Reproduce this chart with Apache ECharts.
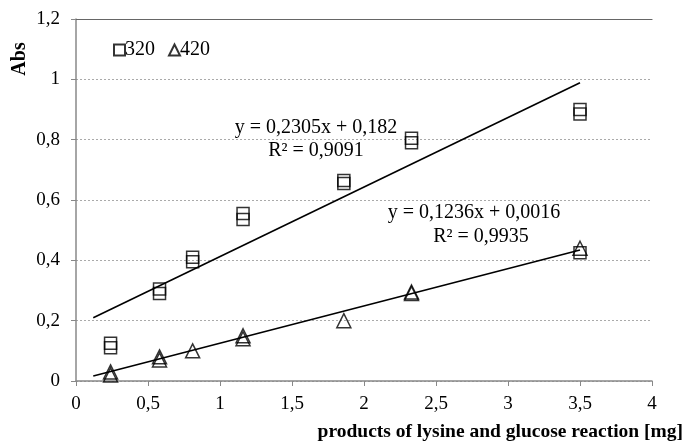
<!DOCTYPE html>
<html>
<head>
<meta charset="utf-8">
<script src="https://cdn.jsdelivr.net/npm/echarts@6/dist/echarts.min.js"></script>
<style>html,body{margin:0;padding:0;background:#fff}#c{width:686px;height:443px}</style>
</head>
<body>
<div id="c"></div>
<script>
// Data
var x320 = [0.24, 0.24, 0.58, 0.58, 0.81, 0.81, 1.16, 1.16, 1.86, 1.86, 2.33, 2.33, 3.5, 3.5];
var y320 = [0.125, 0.11, 0.305, 0.29, 0.41, 0.395, 0.555, 0.535, 0.665, 0.655, 0.805, 0.79, 0.90, 0.885];
var x420 = [0.24, 0.24, 0.58, 0.58, 0.81, 1.16, 1.16, 1.86, 2.33, 2.33, 3.5];
var y420 = [0.03, 0.02, 0.08, 0.07, 0.10, 0.15, 0.14, 0.20, 0.295, 0.29, 0.44];
var x420sq = [3.5];
var y420sq = [0.425];
// Trendline coefficients (as printed) and x range
var slope = [0.2305, 0.1236];
var intercept = [0.182, 0.0016];
var trendX = [0.12, 3.5];
var eqText = ['y = 0,2305x + 0,182', 'y = 0,1236x + 0,0016'];
var r2Text = ['R² = 0,9091', 'R² = 0,9935'];
var xTicks = [0, 0.5, 1, 1.5, 2, 2.5, 3, 3.5, 4];
var yTicks = [0, 0.2, 0.4, 0.6, 0.8, 1, 1.2];

function pairs(xs, ys){ return xs.map(function(v,i){return [v, ys[i]];}); }
function trend(k){ return trendX.map(function(x){ return [x, slope[k]*x + intercept[k]]; }); }
function fmt(v){ return String(v).replace('.', ','); }

var FONT = '"Liberation Serif", "Times New Roman", serif';
var hollow = {color: 'rgba(0,0,0,0)', borderColor: '#000', borderWidth: 1.5};
function txt(s, x, y, size, align, extra){
  var o = {type: 'text', x: x, y: y, style: {text: s, font: size + 'px ' + FONT, fill: '#000', textAlign: align || 'center', textVerticalAlign: 'middle'}};
  for (var k in (extra||{})) o[k] = extra[k];
  return o;
}

var chart = echarts.init(document.getElementById('c'));
chart.setOption({
  animation: false,
  backgroundColor: '#fff',
  textStyle: {fontFamily: FONT},
  grid: {left: 76, right: 34, top: 19, bottom: 62},
  legend: {
    left: 108, top: 35, itemWidth: 11, itemHeight: 11, itemGap: 13,
    data: [{name: '320', icon: 'rect'}, {name: '420', icon: 'triangle'}],
    textStyle: {fontFamily: FONT, fontSize: 20, color: '#000', padding: [0,0,0,-5]}
  },
  xAxis: [{
    type: 'value', min: 0, max: 4, interval: 0.5,
    axisLine: {lineStyle: {color: '#888', width: 1.5}},
    axisTick: {show: true, length: 5, lineStyle: {color: '#888'}},
    axisLabel: {fontFamily: FONT, fontSize: 19, color: '#000', margin: 14, formatter: fmt},
    splitLine: {show: false}
  }, {
    type: 'value', min: 0, max: 4, position: 'top',
    axisLine: {show: true, lineStyle: {color: '#666', width: 1.2}},
    axisTick: {show: false}, axisLabel: {show: false}, splitLine: {show: false}
  }],
  yAxis: {
    type: 'value', min: 0, max: 1.2, interval: 0.2,
    axisLine: {show: true, lineStyle: {color: '#888', width: 1.5}},
    axisTick: {show: true, length: 5, lineStyle: {color: '#888'}},
    axisLabel: {fontFamily: FONT, fontSize: 19, color: '#000', margin: 16, formatter: fmt},
    splitLine: {show: true, lineStyle: {color: '#aaa', type: [2, 2], width: 1}}
  },
  series: [
    {name: '320', type: 'scatter', symbol: 'rect', symbolSize: 12, itemStyle: hollow, data: pairs(x320, y320), z: 3},
    {name: '420', type: 'scatter', symbol: 'triangle', symbolSize: [14, 14], itemStyle: hollow, data: pairs(x420, y420), z: 3},
    {name: '420b', type: 'scatter', symbol: 'rect', symbolSize: 12, itemStyle: hollow, data: pairs(x420sq, y420sq), z: 3},
    {name: 't320', type: 'line', showSymbol: false, symbol: 'none', lineStyle: {color: '#000', width: 1.6}, data: trend(0), z: 2},
    {name: 't420', type: 'line', showSymbol: false, symbol: 'none', lineStyle: {color: '#000', width: 1.6}, data: trend(1), z: 2}
  ],
  graphic: [
    txt(eqText[0], 316, 128, 20),
    txt(r2Text[0], 316, 151, 20),
    txt(eqText[1], 474, 213, 20),
    txt(r2Text[1], 481, 237, 20),
    {type: 'text', x: 20, y: 59, rotation: Math.PI/2, style: {text: 'Abs', font: 'bold 20px ' + FONT, fill: '#000', textAlign: 'center', textVerticalAlign: 'middle'}},
    {type: 'text', x: 683, y: 432, style: {text: 'products of lysine and glucose reaction [mg]', font: 'bold 19.5px ' + FONT, fill: '#000', textAlign: 'right', textVerticalAlign: 'middle'}}
  ]
});
</script>
</body>
</html>
